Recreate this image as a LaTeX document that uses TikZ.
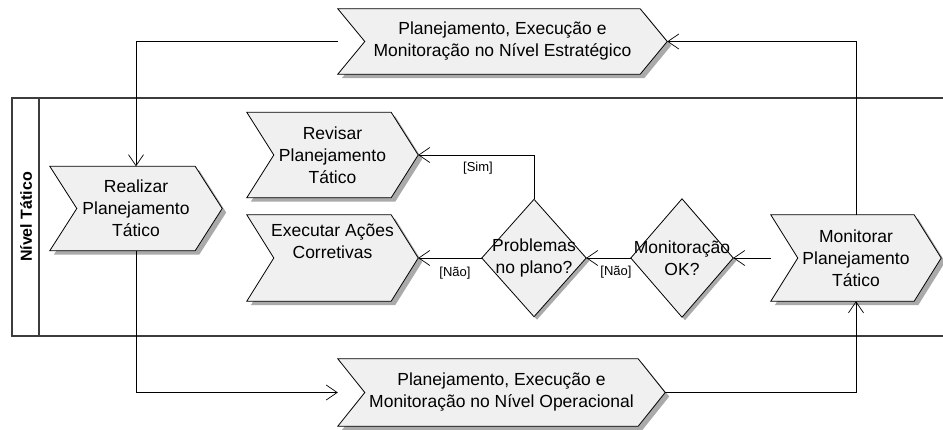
\documentclass[tikz,border=0pt]{standalone}
\usepackage{fontspec}
\setmainfont{Liberation Sans}
\usetikzlibrary{arrows.meta}
\pgfdeclarelayer{bg}
\pgfsetlayers{bg,main}
\definecolor{shapefill}{RGB}{240,240,240}
\definecolor{shadowcol}{RGB}{170,170,170}
\definecolor{lanecol}{RGB}{60,60,60}
\tikzset{
  txt/.style={inner sep=0pt, align=center, font=\fontsize{17.5}{22}\selectfont},
  lbl/.style={inner sep=0pt, font=\fontsize{13}{15}\selectfont},
  arr/.style={line width=0.8pt, -{Straight Barb[length=11pt,width=15pt,line width=0.7pt]}},
  shapeline/.style={draw=black, line width=0.8pt, fill=shapefill},
  shadowfill/.style={fill=shadowcol},
  lane/.style={draw=lanecol, line width=1.8pt}
}
\newcommand\chevshape[1]{%
  \fill[shadowfill] ([shift={(4pt,-4pt)}]#1.north west) -- ([shift={(-23pt,-4pt)}]#1.north east) -- ([shift={(4pt,-4pt)}]#1.east) -- ([shift={(-23pt,-4pt)}]#1.south east) -- ([shift={(4pt,-4pt)}]#1.south west) -- ([shift={(31pt,-4pt)}]#1.west) -- cycle;
  \path[shapeline] (#1.north west) -- ([xshift=-27pt]#1.north east) -- (#1.east) -- ([xshift=-27pt]#1.south east) -- (#1.south west) -- ([xshift=27pt]#1.west) -- cycle;}
\newcommand\diashape[1]{%
  \fill[shadowfill] ([shift={(3pt,-3pt)}]#1.north) -- ([shift={(3pt,-3pt)}]#1.east) -- ([shift={(3pt,-3pt)}]#1.south) -- ([shift={(3pt,-3pt)}]#1.west) -- cycle;
  \path[shapeline] (#1.north) -- (#1.east) -- (#1.south) -- (#1.west) -- cycle;}
\begin{document}
\begin{tikzpicture}[x=1pt,y=-1pt]
\useasboundingbox (0,0) rectangle (943,429);
\begin{pgfonlayer}{bg}
\fill[white] (0,0) rectangle (943,429);
\end{pgfonlayer}
% swimlane
\draw[lane] (943,98) -- (12,98) -- (12,336) -- (943,336);
\draw[lane] (39,98) -- (39,336);
\node[rotate=90, inner sep=0pt, font=\bfseries\fontsize{16}{18}\selectfont] (lanelabel) at (26,217) {Nível Tático};
% nodes
\node[txt, minimum width=329pt, minimum height=65pt] (est) at (502.5,41.5) {Planejamento, Execução e\\Monitoração no Nível Estratégico};
\node[txt, minimum width=327pt, minimum height=67pt] (op) at (501.5,392.5) {Planejamento, Execução e\\Monitoração no Nível Operacional};
\node[txt, minimum width=172pt, minimum height=84pt] (real) at (136,208.5) {Realizar\\Planejamento\\Tático};
\node[txt, minimum width=171pt, minimum height=85pt] (rev) at (332.5,155) {Revisar\\Planejamento\\Tático};
\node[txt, minimum width=171pt, minimum height=86pt] (exe) at (332.5,258) {Executar Ações\\Corretivas\\[12pt]};
\node[txt, minimum width=170pt, minimum height=86pt] (mon) at (856,258) {Monitorar\\Planejamento\\Tático};
\node[txt, minimum width=104pt, minimum height=117pt] (prob) at (534,258) {Problemas\\no plano?};
\node[txt, minimum width=102pt, minimum height=118pt] (mok) at (682,258) {Monitoração\\OK?};
% shapes behind texts
\begin{pgfonlayer}{bg}
\chevshape{est}
\chevshape{op}
\chevshape{real}
\chevshape{rev}
\chevshape{exe}
\chevshape{mon}
\diashape{prob}
\diashape{mok}
\end{pgfonlayer}
% connectors
\draw[arr] (est.west) -| (real.north);
\draw[arr] (real.south) |- (op.west);
\draw[arr] (op.east) -| (mon.south);
\draw[arr] (mon.north) |- (est.east);
\draw[arr] (prob.north) |- (rev.east);
\draw[arr] (prob.west) -- (exe.east);
\draw[arr] (mok.west) -- (prob.east);
\draw[arr] (mon.west) -- (mok.east);
% labels
\node[lbl] (sim) at (478,168) {[Sim]};
\node[lbl] (nao1) at (455,273) {[Não]};
\node[lbl] (nao2) at (616,272) {[Não]};
\end{tikzpicture}
\end{document}
